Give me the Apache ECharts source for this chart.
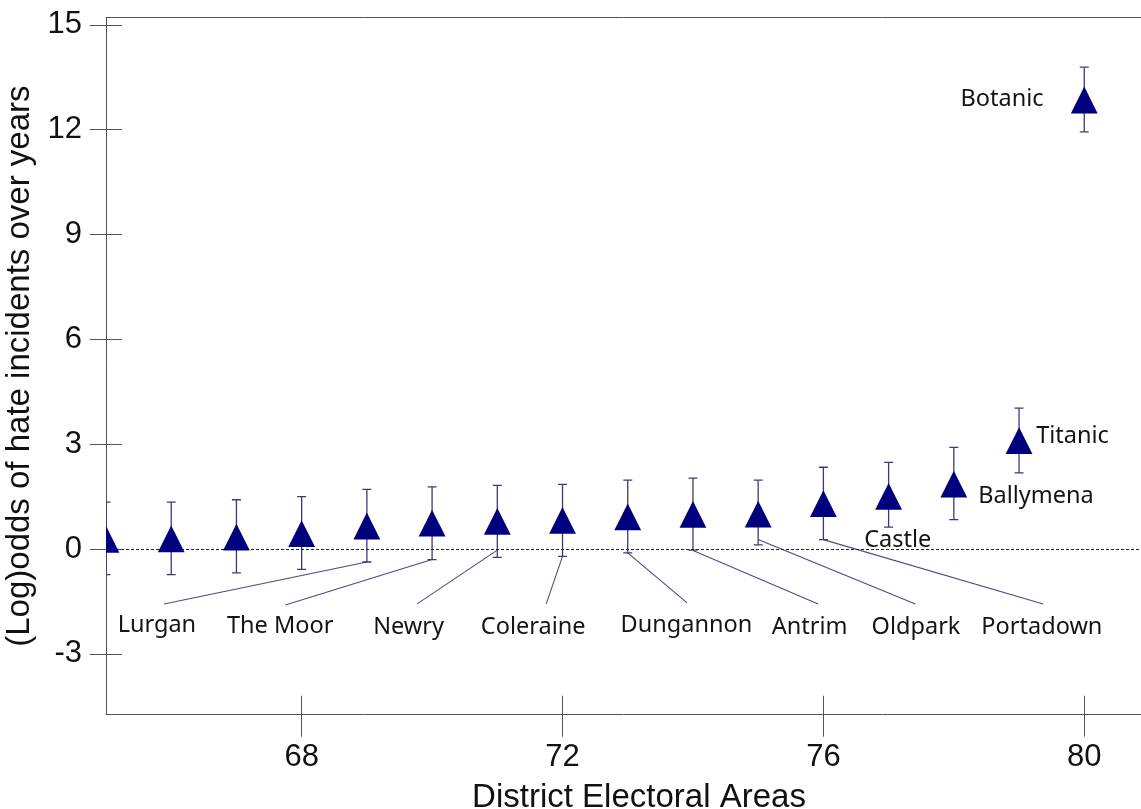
<!DOCTYPE html>
<html>
<head>
<meta charset="utf-8">
<script src="https://cdn.jsdelivr.net/npm/echarts@6/dist/echarts.min.js"></script>
<style>
html,body{margin:0;padding:0;background:#fff;}
#chart{width:1141px;height:809px;}
</style>
</head>
<body>
<div id="chart"></div>
<script>
// ---- data ----
const districtIndex = [65,66,67,68,69,70,71,72,73,74,75,76,77,78,79,80];
const logOdds      = [0.28,0.29,0.34,0.44,0.66,0.74,0.79,0.82,0.92,0.99,1.00,1.30,1.51,1.86,3.10,12.85];
const lowerCI      = [-0.73,-0.73,-0.68,-0.58,-0.37,-0.30,-0.24,-0.21,-0.11,-0.03,0.12,0.27,0.63,0.84,2.18,11.94];
const upperCI      = [1.34,1.34,1.41,1.50,1.71,1.78,1.82,1.85,1.97,2.03,1.97,2.34,2.48,2.91,4.03,13.79];

const xTickValues = [68,72,76,80];
const yTickValues = [-3,0,3,6,9,12,15];

// annotation names and the district each refers to
const areaNames   = ['Lurgan','The Moor','Newry','Coleraine','Dungannon','Antrim','Oldpark','Portadown','Castle','Ballymena','Titanic','Botanic'];
const areaTargets = [69,70,71,72,73,74,75,76,77,78,79,80];
// label anchor positions (data coordinates)
const labelX = [65.78,67.67,69.64,71.55,73.90,75.79,77.42,79.35,77.14,79.26,79.82,78.74];
const labelY = [-2.17,-2.20,-2.23,-2.23,-2.17,-2.23,-2.23,-2.23,0.26,1.50,3.22,12.86];
// leader lines: label end (data coords) -> point end (data coords)
const leaderFromX = [65.89,67.75,69.77,71.75,73.91,75.92,77.41,79.37];
const leaderFromY = [-1.57,-1.60,-1.57,-1.57,-1.54,-1.57,-1.57,-1.57];
const leaderToY   = [-0.37,-0.30,-0.03,-0.21,-0.11,-0.04,0.27,0.27];

// ---- build ----
const pointData = districtIndex.map((x,i)=>[x, logOdds[i], lowerCI[i], upperCI[i]]);
const leaderData = leaderFromX.map((fx,i)=>[fx, leaderFromY[i], areaTargets[i], leaderToY[i]]);
const labelData = areaNames.map((n,i)=>[labelX[i], labelY[i], n]);

const chart = echarts.init(document.getElementById('chart'), null, {renderer:'canvas'});
const axisColor = '#555555';
const X_MIN = 65, X_MAX = 80.87, Y_MIN = -4.74, Y_MAX = 15.21;

const option = {
  backgroundColor:'#ffffff',
  animation:false,
  grid:{left:106, right:0, top:17.5, bottom:94.3, containLabel:false, outerBoundsMode:'none'},
  xAxis:[
    {type:'value', min:X_MIN, max:X_MAX, position:'bottom',
     axisLine:{show:true, onZero:false, lineStyle:{color:axisColor, width:1}},
     axisTick:{show:true, inside:false, length:22, customValues:xTickValues, lineStyle:{color:axisColor}},
     axisLabel:{show:true, customValues:xTickValues, margin:27, fontSize:31, color:'#111',
                fontFamily:'Liberation Sans, Arial, sans-serif'},
     splitLine:{show:false},
     name:'District Electoral Areas', nameLocation:'middle', nameGap:67,
     nameTextStyle:{fontSize:33, color:'#111', fontFamily:'Liberation Sans, Arial, sans-serif', padding:[0,0,0,31]}
    },
    {type:'value', min:X_MIN, max:X_MAX, position:'bottom',
     axisLine:{show:false, onZero:false},
     axisTick:{show:true, inside:true, length:19, customValues:xTickValues, lineStyle:{color:axisColor}},
     axisLabel:{show:false}, splitLine:{show:false}
    },
    {type:'value', min:X_MIN, max:X_MAX, position:'top',
     axisLine:{show:true, onZero:false, lineStyle:{color:axisColor, width:1}},
     axisTick:{show:false}, axisLabel:{show:false}, splitLine:{show:false}
    }
  ],
  yAxis:[
    {type:'value', min:Y_MIN, max:Y_MAX, position:'left',
     axisLine:{show:true, onZero:false, lineStyle:{color:axisColor, width:1}},
     axisTick:{show:true, inside:false, length:16, customValues:yTickValues, lineStyle:{color:axisColor}},
     axisLabel:{show:true, customValues:yTickValues, margin:24, fontSize:31, color:'#111',
                fontFamily:'Liberation Sans, Arial, sans-serif'},
     splitLine:{show:false},
     name:'(Log)odds of hate incidents over years', nameLocation:'middle', nameGap:60, nameRotate:90,
     nameTextStyle:{fontSize:33, color:'#111', fontFamily:'Liberation Sans, Arial, sans-serif'}
    },
    {type:'value', min:Y_MIN, max:Y_MAX, position:'left',
     axisLine:{show:false, onZero:false},
     axisTick:{show:true, inside:true, length:16, customValues:yTickValues, lineStyle:{color:axisColor}},
     axisLabel:{show:false}, splitLine:{show:false}
    }
  ],
  series:[
    { // zero reference line
      type:'line', data:[], xAxisIndex:0, yAxisIndex:0, silent:true,
      markLine:{silent:true, symbol:'none', label:{show:false},
        lineStyle:{type:[3,2], color:'#222', width:1},
        data:[{yAxis:0}]}
    },
    { // leader lines
      type:'custom', xAxisIndex:0, yAxisIndex:0, clip:false, silent:true, z:3,
      data:leaderData,
      renderItem:function(params, api){
        const a = api.coord([api.value(0), api.value(1)]);
        const b = api.coord([api.value(2), api.value(3)]);
        return {type:'line', shape:{x1:a[0], y1:a[1], x2:b[0], y2:b[1]},
                style:{stroke:'#4b4b85', lineWidth:1.1}};
      }
    },
    { // error bars
      type:'custom', xAxisIndex:0, yAxisIndex:0, clip:true, silent:true, z:4,
      data:pointData,
      renderItem:function(params, api){
        const lo = api.coord([api.value(0), api.value(2)]);
        const hi = api.coord([api.value(0), api.value(3)]);
        const cap = 4.5;
        const st = {stroke:'#3a3a78', lineWidth:1.3};
        return {type:'group', children:[
          {type:'line', shape:{x1:lo[0], y1:lo[1], x2:hi[0], y2:hi[1]}, style:st},
          {type:'line', shape:{x1:lo[0]-cap, y1:lo[1], x2:lo[0]+cap, y2:lo[1]}, style:st},
          {type:'line', shape:{x1:hi[0]-cap, y1:hi[1], x2:hi[0]+cap, y2:hi[1]}, style:st}
        ]};
      }
    },
    { // triangles
      type:'custom', xAxisIndex:0, yAxisIndex:0, clip:true, silent:true, z:5,
      data:pointData,
      renderItem:function(params, api){
        const c = api.coord([api.value(0), api.value(1)]);
        const h = 13.4;
        return {type:'polygon',
          shape:{points:[[c[0], c[1]-h],[c[0]-h, c[1]+h],[c[0]+h, c[1]+h]]},
          style:{fill:'#00007f'}};
      }
    },
    { // area labels
      type:'custom', xAxisIndex:0, yAxisIndex:0, clip:false, silent:true, z:6,
      data:labelData,
      renderItem:function(params, api){
        const c = api.coord([api.value(0), api.value(1)]);
        return {type:'text', x:c[0], y:c[1],
          style:{text:labelData[params.dataIndex][2], align:'center', verticalAlign:'middle',
                 fontSize:23.5, fill:'#141414', fontFamily:'Noto Sans, Open Sans, sans-serif'}};
      }
    }
  ]
};
chart.setOption(option);
</script>
</body>
</html>
